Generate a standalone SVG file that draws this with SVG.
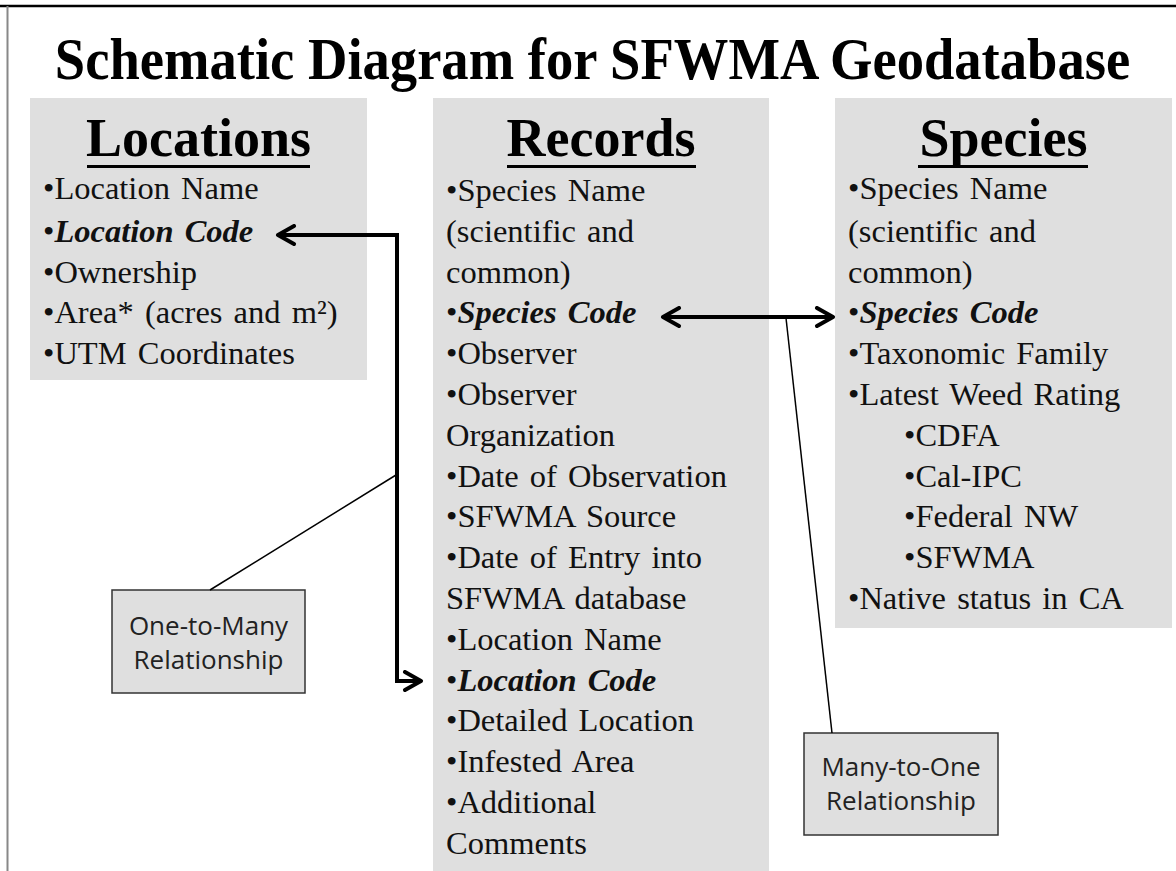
<svg xmlns="http://www.w3.org/2000/svg" width="1176" height="871" viewBox="0 0 1176 871">
  <defs>
    <style>
      .panel { fill: #dfdfdf; }
      .title { font-family: "Liberation Serif", "Times New Roman", serif; font-weight: bold; font-size: 54.6px; fill: #000; text-anchor: middle; }
      .head { font-family: "Liberation Serif", "Times New Roman", serif; font-weight: bold; font-size: 54px; fill: #000; text-anchor: middle; }
      .item { font-family: "Liberation Serif", "Times New Roman", serif; font-size: 32.5px; fill: #111; word-spacing: 3px; }
      .key { font-weight: bold; font-style: italic; }
      .uline { stroke: #000; stroke-width: 3; }
      .label-box { fill: #dfdfdf; stroke: #333; stroke-width: 1.5; }
      .label { font-family: "Open Sans", "Liberation Sans", sans-serif; font-size: 26px; fill: #222; text-anchor: middle; }
      .link { fill: none; stroke: #000; stroke-width: 4; stroke-linejoin: miter; }
      .leader { fill: none; stroke: #000; stroke-width: 1.5; }
    </style>
    <marker id="chevron" viewBox="0 0 22 22" markerUnits="userSpaceOnUse" markerWidth="22" markerHeight="22" refX="19" refY="11" orient="auto-start-reverse">
      <path d="M3,2 L19,11 L3,20" fill="none" stroke="#000" stroke-width="4" stroke-linecap="round" stroke-linejoin="round"/>
    </marker>
  </defs>

  <rect width="1176" height="871" fill="#fff"/>
  <!-- page frame -->
  <line x1="0" y1="6" x2="1176" y2="6" stroke="#000" stroke-width="2.5"/>
  <line x1="7.5" y1="6" x2="7.5" y2="871" stroke="#888" stroke-width="2"/>

  <text class="title" transform="translate(592.5,79) scale(1,1.1)" x="0" y="0">Schematic Diagram for SFWMA Geodatabase</text>

  <!-- Locations table -->
  <g id="locations">
    <rect class="panel" x="30" y="98" width="337" height="282"/>
    <text class="head" x="198.5" y="156">Locations</text>
    <line class="uline" x1="87" y1="166.5" x2="310" y2="166.5"/>
    <text class="item" x="43" y="199">•Location Name</text>
    <text class="item" x="43" y="242">•<tspan class="key">Location Code</tspan></text>
    <text class="item" x="43" y="283">•Ownership</text>
    <text class="item" x="43" y="323">•Area* (acres and m²)</text>
    <text class="item" x="43" y="364">•UTM Coordinates</text>
  </g>

  <!-- Records table -->
  <g id="records">
    <rect class="panel" x="433" y="98" width="336" height="773"/>
    <text class="head" x="601" y="156">Records</text>
    <line class="uline" x1="507" y1="166.5" x2="696" y2="166.5"/>
    <text class="item" x="446" y="201">•Species Name</text>
    <text class="item" x="446" y="241.8">(scientific and</text>
    <text class="item" x="446" y="282.6">common)</text>
    <text class="item" x="446" y="323.4">•<tspan class="key">Species Code</tspan></text>
    <text class="item" x="446" y="364.2">•Observer</text>
    <text class="item" x="446" y="405">•Observer</text>
    <text class="item" x="446" y="445.8">Organization</text>
    <text class="item" x="446" y="486.6">•Date of Observation</text>
    <text class="item" x="446" y="527.4">•SFWMA Source</text>
    <text class="item" x="446" y="568.2">•Date of Entry into</text>
    <text class="item" x="446" y="609">SFWMA database</text>
    <text class="item" x="446" y="649.8">•Location Name</text>
    <text class="item" x="446" y="690.6">•<tspan class="key">Location Code</tspan></text>
    <text class="item" x="446" y="731.4">•Detailed Location</text>
    <text class="item" x="446" y="772.2">•Infested Area</text>
    <text class="item" x="446" y="813">•Additional</text>
    <text class="item" x="446" y="853.8">Comments</text>
  </g>

  <!-- Species table -->
  <g id="species">
    <rect class="panel" x="835" y="98" width="337" height="530"/>
    <text class="head" x="1003.5" y="156">Species</text>
    <line class="uline" x1="918" y1="166.5" x2="1088" y2="166.5"/>
    <text class="item" x="848" y="199">•Species Name</text>
    <text class="item" x="848" y="241.8">(scientific and</text>
    <text class="item" x="848" y="282.6">common)</text>
    <text class="item" x="848" y="323.4">•<tspan class="key">Species Code</tspan></text>
    <text class="item" x="848" y="364.2">•Taxonomic Family</text>
    <text class="item" x="848" y="405">•Latest Weed Rating</text>
    <text class="item" x="904" y="445.8">•CDFA</text>
    <text class="item" x="904" y="486.6">•Cal-IPC</text>
    <text class="item" x="904" y="527.4">•Federal NW</text>
    <text class="item" x="904" y="568.2">•SFWMA</text>
    <text class="item" x="848" y="609">•Native status in CA</text>
  </g>

  <!-- relationship callouts -->
  <g id="one-to-many">
    <rect class="label-box" x="112" y="590" width="193" height="103"/>
    <text class="label" x="208.5" y="635">One-to-Many</text>
    <text class="label" x="208.5" y="669">Relationship</text>
  </g>
  <g id="many-to-one">
    <rect class="label-box" x="804" y="733" width="194" height="102"/>
    <text class="label" x="901" y="776">Many-to-One</text>
    <text class="label" x="901" y="810">Relationship</text>
  </g>

  <!-- connectors -->
  <g id="connectors">
    <path class="link" d="M278,235 H397 V681 H421" marker-start="url(#chevron)" marker-end="url(#chevron)"/>
    <path class="link" d="M663,317 H833" marker-start="url(#chevron)" marker-end="url(#chevron)"/>
    <line class="leader" x1="210" y1="590" x2="396" y2="475"/>
    <line class="leader" x1="832" y1="733" x2="786" y2="318"/>
  </g>
</svg>
